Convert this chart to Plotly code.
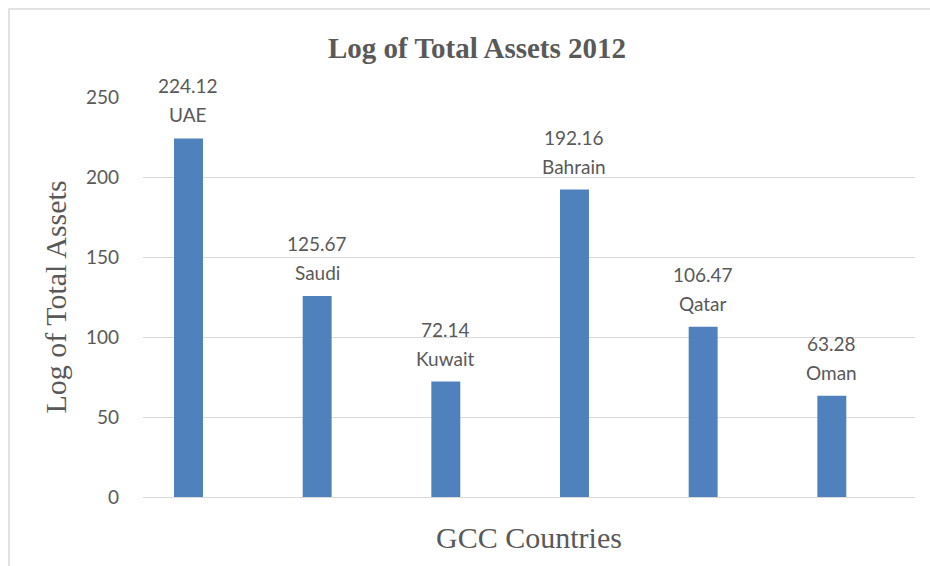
import plotly.graph_objects as go

# GCC banking data, 2012
countries = ["UAE", "Saudi", "Kuwait", "Bahrain", "Qatar", "Oman"]
log_total_assets = [224.12, 125.67, 72.14, 192.16, 106.47, 63.28]
y_ticks = [0, 50, 100, 150, 200, 250]

BAR_COLOR = "#4F81BD"
TEXT_COLOR = "#595959"
GRID_COLOR = "#D9D9D9"
SANS = "Lato, 'Open Sans', sans-serif"
SERIF = "'Liberation Serif', 'Times New Roman', serif"

W, H = 930, 566
M_L, M_R, M_T, M_B = 143, 15, 97, 69
plot_w = W - M_L - M_R
plot_h = H - M_T - M_B

BAR_WIDTH = 0.225
BAR_OFFSET = -0.259
label_shift = (BAR_OFFSET + BAR_WIDTH / 2) * plot_w / len(countries)

fig = go.Figure(
    go.Bar(
        x=countries,
        y=log_total_assets,
        width=BAR_WIDTH,
        offset=BAR_OFFSET,
        marker=dict(color=BAR_COLOR, line=dict(width=0)),
        hoverinfo="x+y",
    )
)

# value and country label stacked above every bar
annotations = []
for c, v in zip(countries, log_total_assets):
    annotations.append(dict(
        x=c, y=v, xref="x", yref="y", text=f"{v:.2f}", showarrow=False,
        xanchor="center", yanchor="bottom", xshift=label_shift, yshift=39,
        font=dict(family=SANS, size=19, color=TEXT_COLOR),
    ))
    annotations.append(dict(
        x=c, y=v, xref="x", yref="y", text=c, showarrow=False,
        xanchor="center", yanchor="bottom", xshift=label_shift, yshift=10,
        font=dict(family=SANS, size=19, color=TEXT_COLOR),
    ))

# chart-area frame (right and bottom edges run past the page)
frame = dict(
    type="rect", xref="paper", yref="paper", layer="below",
    x0=(9 - M_L) / plot_w, x1=(945 - M_L) / plot_w,
    y0=(M_T + plot_h - 580) / plot_h, y1=(M_T + plot_h - 9) / plot_h,
    line=dict(color=GRID_COLOR, width=1.5), fillcolor="rgba(0,0,0,0)",
)

fig.update_layout(
    width=W, height=H,
    margin=dict(l=M_L, r=M_R, t=M_T, b=M_B, pad=0),
    paper_bgcolor="white", plot_bgcolor="white",
    showlegend=False,
    title=dict(
        text="<b>Log of Total Assets 2012</b>",
        font=dict(family=SERIF, size=29, color=TEXT_COLOR),
        x=477 / W, xref="container", xanchor="center",
        y=1 - 48 / H, yref="container", yanchor="middle",
    ),
    xaxis=dict(
        showticklabels=False, showgrid=False, showline=False, ticks="",
        zeroline=False,
        title=dict(text="GCC Countries", standoff=29,
                   font=dict(family=SERIF, size=30, color=TEXT_COLOR)),
    ),
    yaxis=dict(
        range=[0, 250], tickvals=y_ticks, ticktext=[str(t) for t in y_ticks],
        showgrid=True, gridcolor=GRID_COLOR, gridwidth=1.3,
        zeroline=True, zerolinecolor=GRID_COLOR, zerolinewidth=1.3,
        showline=False, ticks="", ticklabelstandoff=23,
        tickfont=dict(family=SANS, size=19, color=TEXT_COLOR),
        title=dict(text="Log of Total Assets", standoff=10,
                   font=dict(family=SERIF, size=30, color=TEXT_COLOR)),
    ),
    annotations=annotations,
    shapes=[frame],
)

fig.write_html("out.html")
